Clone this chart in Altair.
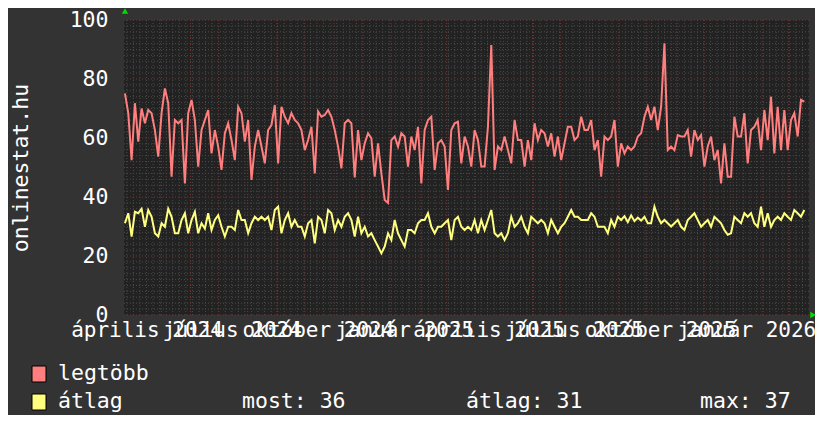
import altair as alt
import pandas as pd

# ---- data ----
red_vals = [
    75.1, 68.4, 52.5, 71.8, 58.8, 70.0, 65.0, 69.5, 68.4, 62.7,
    53.7, 68.4, 76.8, 71.8, 46.9, 66.1, 65.0, 66.1, 44.6, 68.4,
    72.9, 66.1, 50.3, 62.7, 66.1, 69.5, 54.8, 62.7, 57.1, 49.2,
    61.6, 65.0, 59.3, 52.5, 70.6, 68.4, 58.8, 66.1, 45.8, 57.1,
    62.7, 57.1, 51.4, 62.7, 64.4, 71.2, 51.4, 70.6, 67.2, 65.0,
    68.4, 66.1, 65.0, 62.7, 55.9, 59.3, 63.8, 48.0, 69.0, 67.2,
    67.8, 69.5, 67.2, 62.7, 57.1, 49.7, 65.0, 66.1, 65.0, 46.6,
    62.7, 52.5, 58.2, 61.6,
    59.9, 46.9, 58.2, 48.0, 39.0, 38.0, 59.3, 60.5, 57.1, 61.6,
    60.5, 50.3, 60.5, 55.9, 63.8, 44.6, 62.7, 66.1, 67.2, 49.2,
    58.2, 59.3, 57.1, 42.4, 62.7, 65.0, 65.5, 51.4, 60.5, 57.1,
    50.3, 62.7, 59.3, 50.3, 50.3, 63.8, 91.5, 49.2, 57.1, 55.9,
    60.5, 55.9, 51.4, 66.1, 59.3, 59.3, 50.3, 59.3, 52.5, 65.0,
    59.3, 62.7, 61.6, 57.1, 61.6, 53.7, 60.5, 52.5, 58.2, 63.8,
    63.8, 59.3, 60.5, 67.2, 62.7, 62.7, 66.1, 55.9, 59.3, 46.9,
    60.5, 59.3, 60.5, 66.1, 50.3, 58.2, 54.8, 57.1, 55.9, 57.1,
    60.5, 61.6, 67.2, 70.6, 66.1, 70.6, 62.7, 70.6, 92.1, 55.9,
    57.1, 55.9, 61.0, 60.5, 60.5, 62.7, 53.7, 62.7, 59.3, 61.0,
    50.3, 57.1, 60.5, 52.5, 55.9, 44.6, 58.2, 46.9, 46.9, 67.2,
    60.5, 60.5, 68.4, 51.4, 62.7, 63.8, 66.1, 55.9, 69.5, 59.3,
    74.0, 54.8, 70.6, 55.9, 69.5, 55.9, 66.1, 68.4, 60.5, 72.9,
    72.3,
]

yellow_vals = [
    31.1, 34.5, 26.6, 35.0, 34.5, 36.0, 29.9, 35.6, 33.3, 27.7,
    26.6, 31.1, 29.9, 36.0, 33.3, 27.7, 27.7, 32.2, 34.5, 27.7,
    32.2, 35.0, 27.7, 31.1, 29.3, 34.5, 28.8, 32.2, 33.8, 29.9,
    26.6, 29.9, 29.9, 28.8, 35.6, 32.2, 32.2, 27.7, 31.1, 33.3,
    32.2, 33.3, 32.2, 33.3, 28.8, 35.6, 36.7, 27.7, 32.2, 34.5,
    29.9, 32.2, 29.9, 29.9, 26.6, 31.1, 32.2, 24.3, 33.3, 32.2,
    27.7, 35.6, 34.5, 28.8, 32.2, 29.9, 33.3, 34.5, 32.2, 26.6,
    33.3, 27.7, 29.9, 26.6,
    27.7, 25.4, 23.2, 20.9, 23.2, 27.7, 25.4, 32.2, 27.7, 25.4,
    23.2, 28.8, 28.8, 27.7, 31.1, 32.2, 32.2, 34.5, 29.9, 27.7,
    29.9, 29.9, 31.1, 32.2, 25.4, 32.2, 33.3, 29.9, 28.8, 29.9,
    28.8, 32.2, 27.7, 32.2, 28.8, 32.2, 35.6, 27.7, 26.6, 27.7,
    25.4, 27.7, 33.3, 29.9, 31.1, 33.3, 29.9, 27.7, 33.3, 32.2,
    31.1, 32.2, 31.1, 27.7, 32.2, 29.9, 27.7, 29.9, 31.1, 33.3,
    35.6, 33.3, 33.3, 32.2, 32.2, 32.2, 34.5, 33.3, 29.9, 29.9,
    29.9, 27.7, 32.2, 29.9, 33.3, 32.2, 33.5, 31.5, 33.8, 31.8,
    33.0, 32.0, 33.3, 31.1, 31.1, 36.7, 33.3, 31.1, 32.2, 31.1,
    30.0, 31.1, 32.2, 29.9, 28.8, 32.2, 33.3, 34.5, 32.2, 29.9,
    31.1, 32.2, 29.9, 33.3, 32.2, 31.1, 28.8, 27.2, 27.7, 33.3,
    32.2, 31.1, 34.5, 33.3, 34.5, 31.1, 29.9, 36.7, 29.9, 34.5,
    29.9, 32.2, 33.3, 32.2, 34.5, 33.3, 32.2, 35.6, 34.5, 33.3,
    35.6,
]

first_sample = "2024-03-23"
last_sample = "2026-03-18"

y_ticks = [0, 20, 40, 60, 80, 100]
month_names = ["január", "február", "március", "április", "május", "június",
               "július", "augusztus", "szeptember", "október", "november", "december"]
series_names = ["legtöbb", "átlag"]
stats_text = ["most: 36", "átlag: 31", "max: 37"]
y_title = "onlinestat.hu"

# ---- tables ----
dates = pd.date_range(first_sample, last_sample, periods=len(red_vals))
df = pd.DataFrame({
    "t": dates.strftime("%Y-%m-%dT%H:%M:%S"),
    "red": red_vals,
    "yel": yellow_vals,
})

major_months = pd.date_range("2024-04-01", "2026-03-01", freq="MS")
minor_weeks = pd.date_range("2024-03-25", "2026-03-16", freq="W-MON")
grid_x = pd.DataFrame({"t": list(minor_weeks.strftime("%Y-%m-%dT00:00:00"))})
grid_xm = pd.DataFrame({"t": list(major_months.strftime("%Y-%m-%dT00:00:00"))})
grid_y = pd.DataFrame({"v": [v for v in range(0, 101, 2) if v % 20 != 0]})
grid_ym = pd.DataFrame({"v": y_ticks})

label_dates = [alt.DateTime(year=y, month=m, date=15)
               for y, m in [(2024, 4), (2024, 7), (2024, 10), (2025, 1),
                            (2025, 4), (2025, 7), (2025, 10), (2026, 1)]]

FONT = "DejaVu Sans Mono"
FS = 21.5
FSX = 21
names_js = "[" + ",".join("'" + n + "'" for n in month_names) + "]"

x_axis = alt.Axis(values=label_dates,
                  labelExpr=names_js + "[month(datum.value)] + ' ' + year(datum.value)",
                  title=None, grid=False, ticks=False, domain=False,
                  labelColor="white", labelFont=FONT, labelFontSize=FSX,
                  labelOverlap=False, labelFlush=False, labelBound=False,
                  labelPadding=4, labelAngle=0)
y_axis = alt.Axis(values=y_ticks, grid=False, ticks=False, domain=False,
                  labelColor="white", labelFont=FONT, labelFontSize=FS,
                  labelPadding=16, title=y_title, titleColor="white",
                  titleFont=FONT, titleFontSize=FS, titleFontWeight="normal",
                  titleX=-103, titleY=147.5, titleAngle=270,
                  titleAlign="center", titleBaseline="middle")
x_scale = alt.Scale(domain=[alt.DateTime(year=2024, month=3, date=22),
                            alt.DateTime(year=2026, month=3, date=23)])
y_scale = alt.Scale(domain=[0, 100], nice=False, zero=True)


def X(field):
    return alt.X(field, type="temporal", scale=x_scale, axis=x_axis)


def Y(field):
    return alt.Y(field, type="quantitative", scale=y_scale, axis=y_axis)


minor_col = "#4a4a4a"
major_col = "#6e3434"

vmin = alt.Chart(grid_x).mark_rule(color=minor_col, strokeDash=[1, 2], strokeWidth=1).encode(x=X("t"))
hmin = alt.Chart(grid_y).mark_rule(color=minor_col, strokeDash=[1, 2], strokeWidth=1).encode(y=Y("v"))
vmaj = alt.Chart(grid_xm).mark_rule(color=major_col, strokeDash=[1, 2], strokeWidth=1).encode(x=X("t"))
hmaj = alt.Chart(grid_ym).mark_rule(color=major_col, strokeDash=[1, 2], strokeWidth=1).encode(y=Y("v"))

red_line = alt.Chart(df).mark_line(color="#ff7f7f", strokeWidth=2).encode(x=X("t"), y=Y("red"))
yel_line = alt.Chart(df).mark_line(color="#ffff7f", strokeWidth=2).encode(x=X("t"), y=Y("yel"))

one = pd.DataFrame({"k": [0]})
arrow_up = alt.Chart(one).mark_point(shape="triangle-up", filled=True, color="#00dd00",
                                     size=40, opacity=1).encode(x=alt.value(1), y=alt.value(-9))
arrow_right = alt.Chart(one).mark_point(shape="triangle-right", filled=True, color="#00dd00",
                                        size=40, opacity=1).encode(x=alt.value(689), y=alt.value(295))

sq_red = alt.Chart(one).mark_rect(fill="#ff7f7f", stroke="black", strokeWidth=1).encode(
    x=alt.value(-92), x2=alt.value(-78), y=alt.value(346), y2=alt.value(362))
sq_yel = alt.Chart(one).mark_rect(fill="#ffff7f", stroke="black", strokeWidth=1).encode(
    x=alt.value(-92), x2=alt.value(-78), y=alt.value(374), y2=alt.value(390))


def label(text, x, y):
    return alt.Chart(one).mark_text(font=FONT, fontSize=FS, color="white", align="left",
                                    baseline="middle").encode(
        x=alt.value(x), y=alt.value(y), text=alt.value(text))


texts = [
    label(series_names[0], -66, 354),
    label(series_names[1], -66, 382),
    label(stats_text[0], 118, 382),
    label(stats_text[1], 342, 382),
    label(stats_text[2], 576, 382),
]

chart = alt.layer(
    vmin, hmin, vmaj, hmaj, red_line, yel_line, arrow_up, arrow_right, sq_red, sq_yel, *texts
).properties(
    width=685, height=295,
    autosize=alt.AutoSizeParams(type="none"),
    padding={"left": 116, "top": 12, "right": 6, "bottom": 100},
    background="#333333",
).configure_view(fill="#222222", stroke=None)

chart.save("out.html", embed_options={"renderer": "svg", "actions": False})
